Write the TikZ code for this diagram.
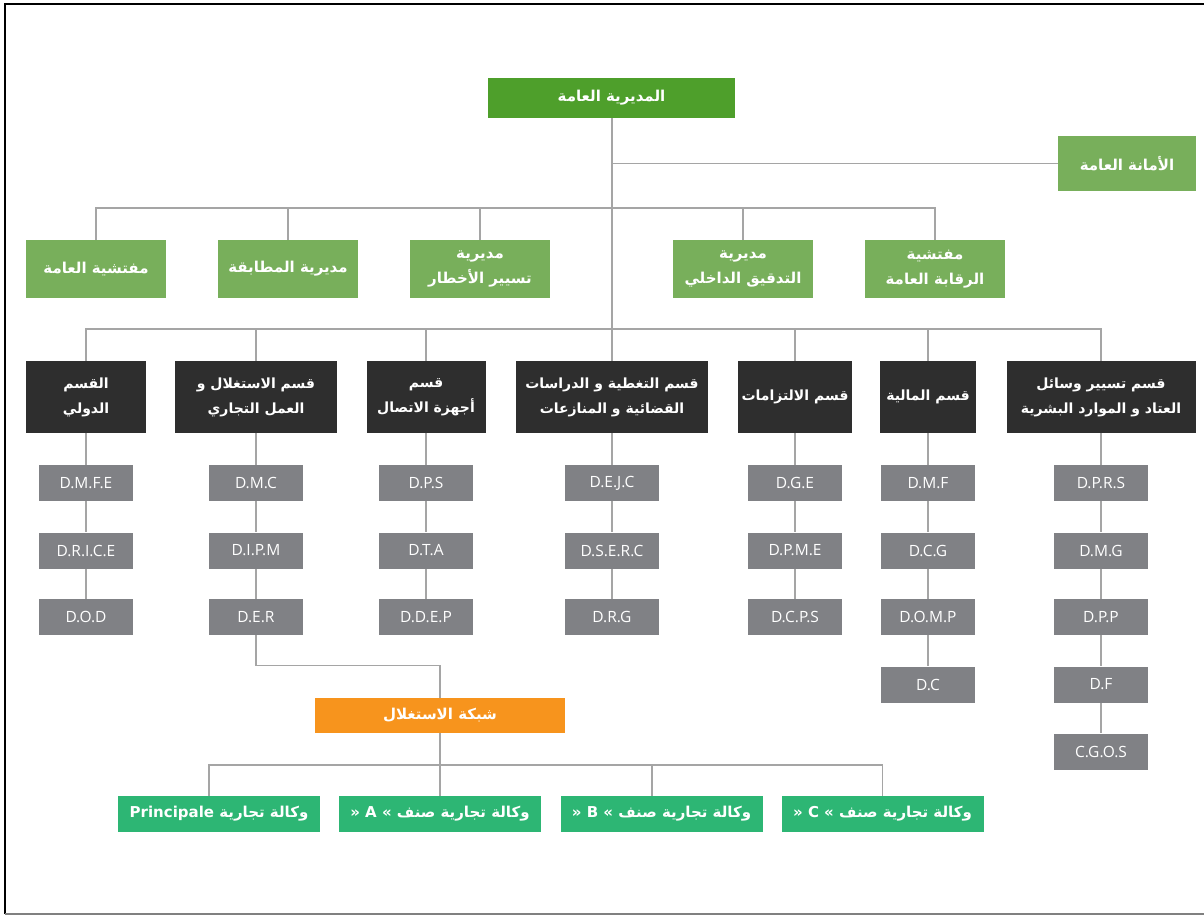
\documentclass[tikz,border=0pt]{standalone}
\usepackage{fontspec}
\setmainfont{Open Sans}
\newfontfamily\arfont[Script=Arabic]{DejaVu Sans}
\TeXXeTstate=1
\usetikzlibrary{backgrounds}
\definecolor{topgreen}{RGB}{78,159,43}
\definecolor{litegreen}{RGB}{120,175,91}
\definecolor{darkbox}{RGB}{46,46,46}
\definecolor{greybox}{RGB}{128,129,133}
\definecolor{orangebox}{RGB}{247,148,29}
\definecolor{agreen}{RGB}{45,182,116}
\definecolor{connc}{RGB}{165,165,165}
\newcommand{\AR}[1]{\beginR #1\endR}
\tikzset{
  box/.style={draw=none, text=white, inner sep=0pt, align=center, font=\arfont\bfseries\fontsize{15}{25}\selectfont},
  gbox/.style={box, fill=topgreen, minimum width=247pt, minimum height=40pt},
  lbox/.style={box, fill=litegreen, minimum width=140pt, minimum height=58pt},
  dbox/.style={box, fill=darkbox, minimum height=72pt, font=\arfont\bfseries\fontsize{14}{25}\selectfont},
  sbox/.style={box, fill=greybox, minimum width=94pt, minimum height=36pt, font=\fontsize{15.5}{18}\selectfont},
  obox/.style={box, fill=orangebox, minimum width=250pt, minimum height=35pt},
  abox/.style={box, fill=agreen, minimum width=202pt, minimum height=36pt},
  conn/.style={draw=connc, line width=1.3pt},
}
\begin{document}
\begin{tikzpicture}[x=1pt,y=-1pt]
\useasboundingbox (0,0) rectangle (1204,916);
\draw[line width=2pt, black] (5,914) -- (5,4) -- (1204,4);
\draw[line width=1.2pt, gray] (5,914) -- (1204,914);

% top
\node[gbox] (gen) at (611.5,98) {\AR{المديرية العامة}};
\node[lbox, minimum width=138pt, minimum height=55pt] (sec) at (1127,163.5) {\AR{الأمانة العامة}};

% second row
\node[lbox] (r2a) at (96,269) {\AR{مفتشية العامة}};
\node[lbox] (r2b) at (288,269) {\AR{مديرية المطابقة}};
\node[lbox] (r2c) at (480,269) {\AR{مديرية}\\\AR{تسيير الأخطار}};
\node[lbox] (r2d) at (743,269) {\AR{مديرية}\\\AR{التدقيق الداخلي}};
\node[lbox] (r2e) at (935,269) {\AR{مفتشية}\\\AR{الرقابة العامة}};

% third row
\node[dbox, minimum width=120pt] (d1) at (86,397) {\AR{القسم}\\\AR{الدولي}};
\node[dbox, minimum width=162pt] (d2) at (256,397) {\AR{قسم الاستغلال و}\\\AR{العمل التجاري}};
\node[dbox, minimum width=119pt] (d3) at (426,397) {\AR{قسم}\\\AR{أجهزة الاتصال}};
\node[dbox, minimum width=192pt] (d4) at (612,397) {\AR{قسم التغطية و الدراسات}\\\AR{القضائية و المنازعات}};
\node[dbox, minimum width=114pt] (d5) at (795,397) {\AR{قسم الالتزامات}};
\node[dbox, minimum width=96pt] (d6) at (928,397) {\AR{قسم المالية}};
\node[dbox, minimum width=189pt] (d7) at (1101,397) {\AR{قسم تسيير وسائل}\\\AR{العتاد و الموارد البشرية}};

% grey boxes
\node[sbox] (g11) at (86,483) {D.M.F.E};
\node[sbox] (g12) at (86,550.5) {D.R.I.C.E};
\node[sbox] (g13) at (86,617) {D.O.D};
\node[sbox] (g21) at (256,483) {D.M.C};
\node[sbox] (g22) at (256,550.5) {D.I.P.M};
\node[sbox] (g23) at (256,617) {D.E.R};
\node[sbox] (g31) at (426,483) {D.P.S};
\node[sbox] (g32) at (426,550.5) {D.T.A};
\node[sbox] (g33) at (426,617) {D.D.E.P};
\node[sbox] (g41) at (612,483) {D.E.J.C};
\node[sbox] (g42) at (612,550.5) {D.S.E.R.C};
\node[sbox] (g43) at (612,617) {D.R.G};
\node[sbox] (g51) at (795,483) {D.G.E};
\node[sbox] (g52) at (795,550.5) {D.P.M.E};
\node[sbox] (g53) at (795,617) {D.C.P.S};
\node[sbox] (g61) at (928,483) {D.M.F};
\node[sbox] (g62) at (928,550.5) {D.C.G};
\node[sbox] (g63) at (928,617) {D.O.M.P};
\node[sbox] (g64) at (928,684.5) {D.C};
\node[sbox] (g71) at (1101,483) {D.P.R.S};
\node[sbox] (g72) at (1101,550.5) {D.M.G};
\node[sbox] (g73) at (1101,617) {D.P.P};
\node[sbox] (g74) at (1101,684.5) {D.F};
\node[sbox] (g75) at (1101,751.5) {C.G.O.S};

% network
\node[obox] (net) at (440,715.5) {\AR{شبكة الاستغلال}};
\node[abox] (a1) at (219,814) {\AR{وكالة تجارية \beginL Principale\endL}};
\node[abox] (a2) at (440,814) {\AR{وكالة تجارية صنف \beginL« A »\endL}};
\node[abox] (a3) at (661.5,814) {\AR{وكالة تجارية صنف \beginL« B »\endL}};
\node[abox] (a4) at (882.5,814) {\AR{وكالة تجارية صنف \beginL« C »\endL}};

\coordinate (t2) at (612,208);
\coordinate (t3) at (612,329);
\coordinate (t1) at (612,163.5);
\coordinate (bus) at (440,765);

\begin{scope}[on background layer]
\draw[conn] (gen.south -| t3) -- (t3);
\draw[conn] (t1) -- (sec.west);
\draw[conn] (r2a.north) |- (t2) -| (r2e.north);
\foreach \n in {r2b,r2c,r2d} \draw[conn] (\n.north) -- (\n.north |- t2);
\draw[conn] (d1.north) |- (t3) -| (d7.north);
\foreach \n in {d2,d3,d4,d5,d6} \draw[conn] (\n.north) -- (\n.north |- t3);
\foreach \a/\b in {d1/g11,g11/g12,g12/g13,d2/g21,g21/g22,g22/g23,d3/g31,g31/g32,g32/g33,d4/g41,g41/g42,g42/g43,d5/g51,g51/g52,g52/g53,d6/g61,g61/g62,g62/g63,g63/g64,d7/g71,g71/g72,g72/g73,g73/g74,g74/g75}
  \draw[conn] (\a.south) -- (\b.north);
\draw[conn] (g23.south) -- ++(0,30) -| (net.north);
\draw[conn] (net.south) -- (a2.north);
\draw[conn] ([xshift=-10pt]a1.north) |- (bus) -| (a4.north);
\draw[conn] ([xshift=-9.5pt]a3.north) -- ++(0,-31);
\end{scope}
\end{tikzpicture}
\end{document}
